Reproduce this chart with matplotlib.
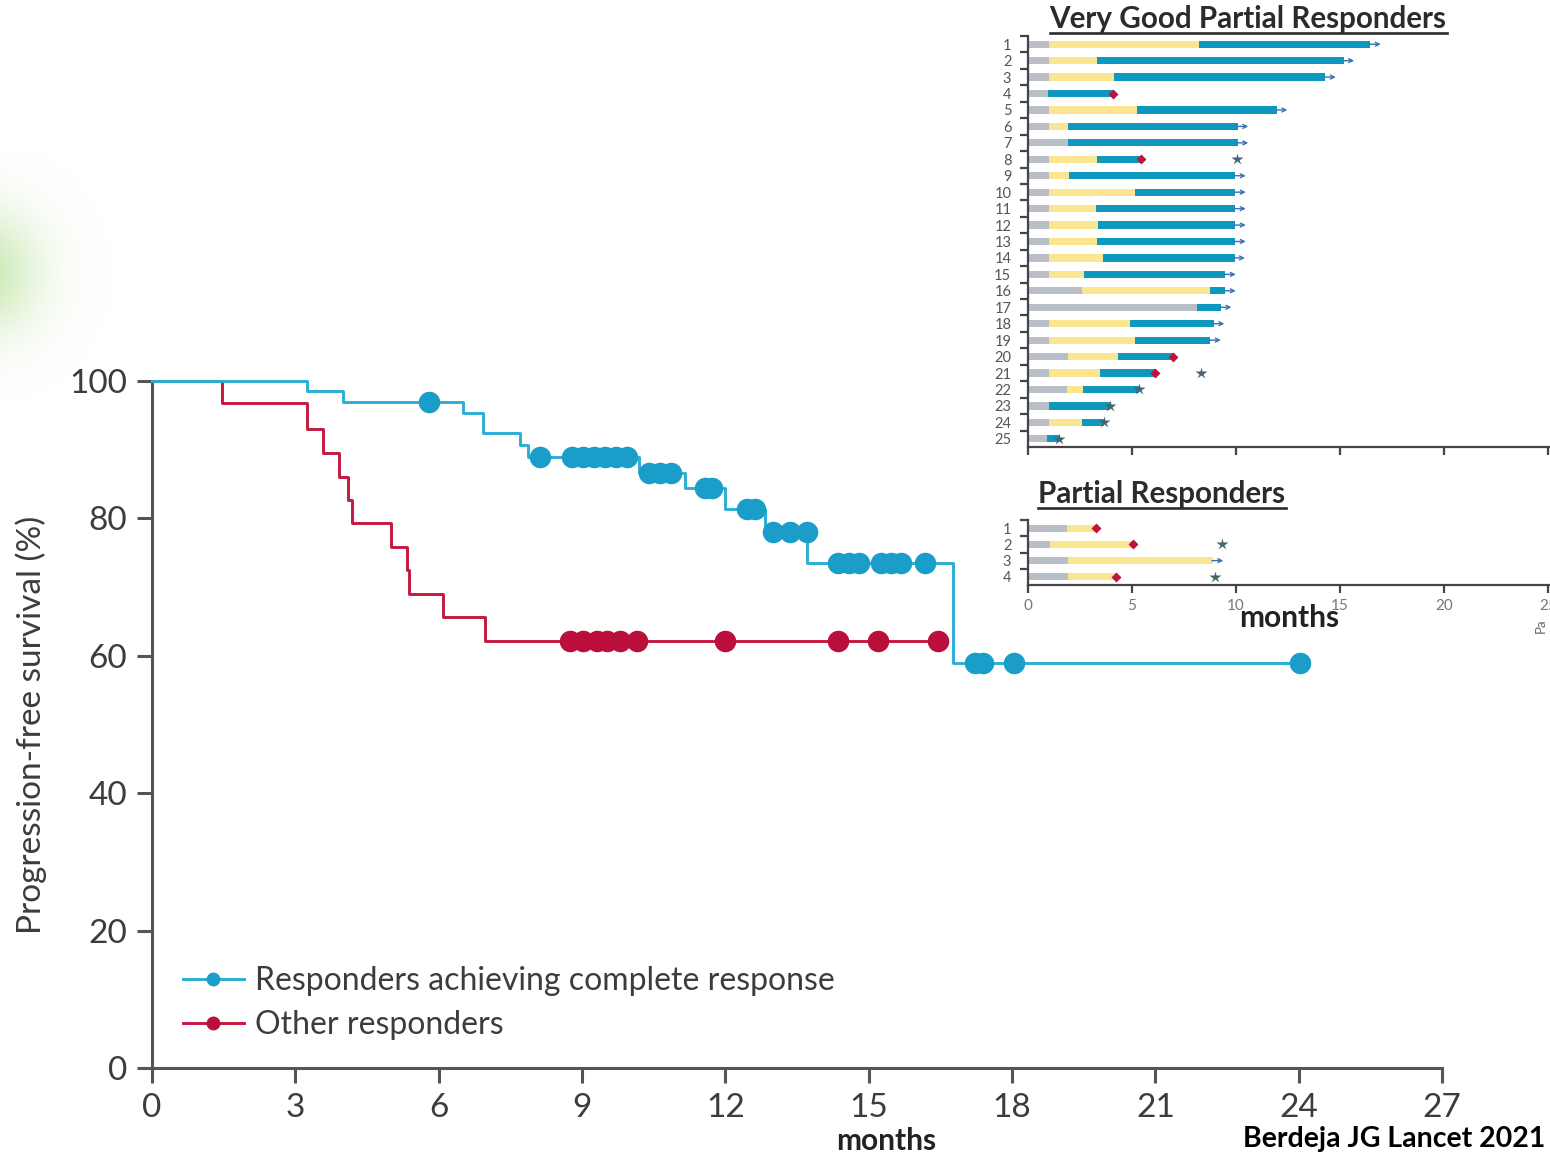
import numpy as np
import matplotlib
matplotlib.use('Agg')
import matplotlib.pyplot as plt
from matplotlib.lines import Line2D

plt.rcParams['font.family'] = ['Lato', 'DejaVu Sans']

# --- Kaplan-Meier curves (months, % progression-free) ---
cr_times = [0, 3.24, 4.0, 6.5, 6.93, 7.7, 7.87, 10.2, 11.15, 12.0, 12.83, 13.71, 16.77]
cr_surv = [100, 98.5, 96.9, 95.3, 92.4, 90.7, 89.0, 86.6, 84.4, 81.4, 78.0, 73.5, 59.0]
cr_end = 24.03
cr_censor = [5.8, 8.12, 8.79, 9.02, 9.25, 9.48, 9.71, 9.94, 10.4, 10.63, 10.86,
             11.57, 11.72, 12.45, 12.62, 13.0, 13.35, 13.7, 14.36, 14.59, 14.8,
             15.26, 15.47, 15.68, 16.18, 17.22, 17.39, 18.04, 24.03]

other_times = [0, 1.46, 3.24, 3.58, 3.92, 4.1, 4.19, 5.0, 5.33, 5.38, 6.09, 6.97]
other_surv = [100, 96.8, 93.0, 89.5, 86.0, 82.7, 79.3, 75.8, 72.5, 69.0, 65.6, 62.1]
other_end = 16.45
other_censor = [8.75, 9.02, 9.31, 9.52, 9.79, 10.15, 11.99, 14.36, 15.19, 16.45]

x_ticks = [0, 3, 6, 9, 12, 15, 18, 21, 24, 27]
y_ticks = [0, 20, 40, 60, 80, 100]
legend_labels = ['Responders achieving complete response', 'Other responders']

# --- swimmer plots (months) ---
vgpr_gray = [1.0, 1.0, 1.0, 0.95, 1.0, 1.0, 1.93, 1.0, 1.0, 1.0, 1.0, 1.0, 1.0,
             1.0, 1.0, 2.62, 8.12, 1.0, 1.0, 1.93, 1.0, 1.88, 1.0, 1.0, 0.9]
vgpr_yellow = [8.2, 3.33, 4.15, 0.95, 5.25, 1.93, 1.93, 3.33, 1.97, 5.13, 3.25, 3.37, 3.3,
               3.59, 2.7, 8.75, 8.12, 4.9, 5.13, 4.31, 3.45, 2.65, 1.0, 2.62, 0.9]
vgpr_blue = [16.46, 15.18, 14.3, 4.1, 11.97, 10.09, 10.09, 5.42, 9.97, 9.97, 9.97, 9.97, 9.97,
             9.93, 9.49, 9.49, 9.28, 8.94, 8.77, 6.97, 6.1, 5.35, 3.93, 3.64, 1.49]
# 'a' ongoing, 'p' progression, 'd' death
vgpr_status = ['a', 'a', 'a', 'p', 'a', 'a', 'a', 'p', 'a', 'a', 'a', 'a', 'a',
               'a', 'a', 'a', 'a', 'a', 'a', 'p', 'p', 'd', 'd', 'd', 'd']
vgpr_death = {8: 10.03, 21: 8.34}

pr_gray = [1.88, 1.08, 1.93, 1.93]
pr_yellow = [3.25, 5.04, 8.89, 4.22]
pr_status = ['p', 'p', 'a', 'p']
pr_death = {2: 9.32, 4: 8.97}

W, H = 1550, 1159
fig = plt.figure(figsize=(W / 100, H / 100), dpi=100)


def fx(px):
    return px / W


def fy(py):
    return 1 - py / H


# faint green glow on the left edge
glow = fig.add_axes([0, 0, 1, 1], zorder=-10)
glow.axis('off')
gx, gy = np.meshgrid(np.arange(0, 180), np.arange(150, 400))
r = np.hypot(gx + 25, gy - 272)
img = np.zeros(gx.shape + (4,))
img[..., 0], img[..., 1], img[..., 2] = 0.62, 0.84, 0.45
img[..., 3] = 0.55 * np.exp(-(r / 62.0) ** 2)
glow.imshow(img, extent=[0, 180, 400, 150], interpolation='bilinear')
glow.set_xlim(0, W)
glow.set_ylim(H, 0)

# ---------------- main KM plot ----------------
blue_line, blue_dot = '#2aaed6', '#1a9ec9'
red_line, red_dot = '#c4183f', '#b90f3a'
axc = '#555555'

ax = fig.add_axes([fx(152), fy(1068), fx(1442 - 152), (1068 - 381) / H])


def km_at(times, surv, t):
    return surv[np.searchsorted(times, t, side='right') - 1]


for times, surv, end, cens, lc, dc, z in [
        (other_times, other_surv, other_end, other_censor, red_line, red_dot, 3),
        (cr_times, cr_surv, cr_end, cr_censor, blue_line, blue_dot, 4)]:
    ax.step(times + [end], surv + [surv[-1]], where='post', color=lc, lw=2.1,
            zorder=z, clip_on=False)
    cy = [km_at(np.array(times), surv, t) for t in cens]
    ax.plot(cens, cy, 'o', color=dc, ms=15.5, mec='none', zorder=z + 0.5, clip_on=False)

ax.set_xlim(0, 27)
ax.set_ylim(0, 100)
ax.set_xticks(x_ticks)
ax.set_yticks(y_ticks)
for s in ['top', 'right']:
    ax.spines[s].set_visible(False)
for s in ['left', 'bottom']:
    ax.spines[s].set_color(axc)
    ax.spines[s].set_linewidth(2.2)
ax.tick_params(direction='out', length=11, width=2.2, color=axc,
               labelsize=24, labelcolor='#3c3c3c', pad=7)
ax.set_ylabel('Progression-free survival (%)', fontsize=24, color='#3c3c3c', labelpad=16)

handles = [Line2D([], [], color=blue_line, lw=2.1, marker='o', ms=10, mfc=blue_dot, mec='none'),
           Line2D([], [], color=red_line, lw=2.1, marker='o', ms=10, mfc=red_dot, mec='none')]
fig.legend(handles, legend_labels, loc='upper left', bbox_to_anchor=(fx(183), fy(966)),
           frameon=False, fontsize=23, labelcolor='#3c3c3c', handlelength=1.9,
           handletextpad=0.35, labelspacing=0.45, borderpad=0, borderaxespad=0)

fig.text(fx(886), fy(1141), 'months', fontsize=21.5, fontweight='bold', color='#222222',
         ha='center', va='center')
fig.text(fx(1545), fy(1139), 'Berdeja JG Lancet 2021', fontsize=20.5, fontweight='bold',
         color='black', ha='right', va='center')

# ---------------- swimmer insets ----------------
c_gray, c_yellow, c_blue = '#b9bfc7', '#fce58f', '#0f98bf'
c_prog, c_death, c_arrow = '#c0143c', '#456470', '#3a6fb4'
px_per_month = 20.8
xmax = (W - 1028) / px_per_month
bar_h = 0.44


def swim(axs, gray, yellow, blue, status, death):
    n = len(gray)
    rows = np.arange(1, n + 1)
    axs.barh(rows, gray, height=bar_h, color=c_gray, zorder=2)
    axs.barh(rows, np.array(yellow) - np.array(gray), left=gray, height=bar_h,
             color=c_yellow, zorder=2)
    if blue is not None:
        axs.barh(rows, np.array(blue) - np.array(yellow), left=yellow, height=bar_h,
                 color=c_blue, zorder=2)
        ends = blue
    else:
        ends = yellow
    for row, e, st in zip(rows, ends, status):
        if st == 'a':
            axs.annotate('', xy=(e + 0.5, row), xytext=(e - 0.05, row),
                         arrowprops=dict(arrowstyle='->', color=c_arrow, lw=1.0,
                                         shrinkA=0, shrinkB=0, mutation_scale=7),
                         zorder=3)
        elif st == 'p':
            axs.plot(e, row, 'D', color=c_prog, ms=5.5, mec='none', zorder=4)
        else:
            axs.plot(e, row, '*', color=c_death, ms=9, mec='none', zorder=4)
    for row, t in death.items():
        axs.plot(t, row, '*', color=c_death, ms=9, mec='none', zorder=4)
    axs.set_xlim(0, xmax)
    axs.set_ylim(n + 0.5, 0.5)
    axs.set_yticks(rows)
    axs.set_yticklabels([str(r) for r in rows])
    axs.set_yticks(np.arange(0.5, n + 0.5, 1.0), minor=True)
    axs.set_xticks([0, 5, 10, 15, 20, 25])
    for s in ['top', 'right']:
        axs.spines[s].set_visible(False)
    for s in ['left', 'bottom']:
        axs.spines[s].set_color('#444444')
        axs.spines[s].set_linewidth(1.6)
    axs.tick_params(axis='y', which='major', length=0, pad=12, labelsize=10.5,
                    labelcolor='#555555')
    axs.tick_params(axis='y', which='minor', direction='out', length=6, width=1.6,
                    color='#444444')
    axs.tick_params(axis='x', direction='out', length=6, width=1.6, color='#444444',
                    labelsize=11, labelcolor='#777777', pad=4)


ax_vg = fig.add_axes([fx(1028), fy(447), 1 - fx(1028), (447 - 36) / H])
swim(ax_vg, vgpr_gray, vgpr_yellow, vgpr_blue, vgpr_status, vgpr_death)
ax_vg.tick_params(axis='x', labelbottom=False)

ax_pr = fig.add_axes([fx(1028), fy(585), 1 - fx(1028), (585 - 520) / H])
swim(ax_pr, pr_gray, pr_yellow, None, pr_status, pr_death)

fig.text(fx(1289), fy(618), 'months', fontsize=21.5, fontweight='bold', color='#222222',
         ha='center', va='center')
fig.text(fx(1541), fy(626), 'Pa', fontsize=9.5, color='#666666', rotation=90,
         ha='center', va='center')

# underlined panel titles
renderer = fig.canvas.get_renderer()
for label, cx, base in [('Very Good Partial Responders', 1248, 28),
                        ('Partial Responders', 1162, 503)]:
    t = fig.text(fx(cx), fy(base), label, fontsize=21.3, fontweight='bold',
                 color='#2b2b2b', ha='center', va='baseline')
    bb = t.get_window_extent(renderer)
    fig.add_artist(Line2D([bb.x0 / W, bb.x1 / W], [fy(base + 5)] * 2,
                          color='#2b2b2b', lw=1.9, transform=fig.transFigure))

fig.savefig('out.png', dpi=100)
